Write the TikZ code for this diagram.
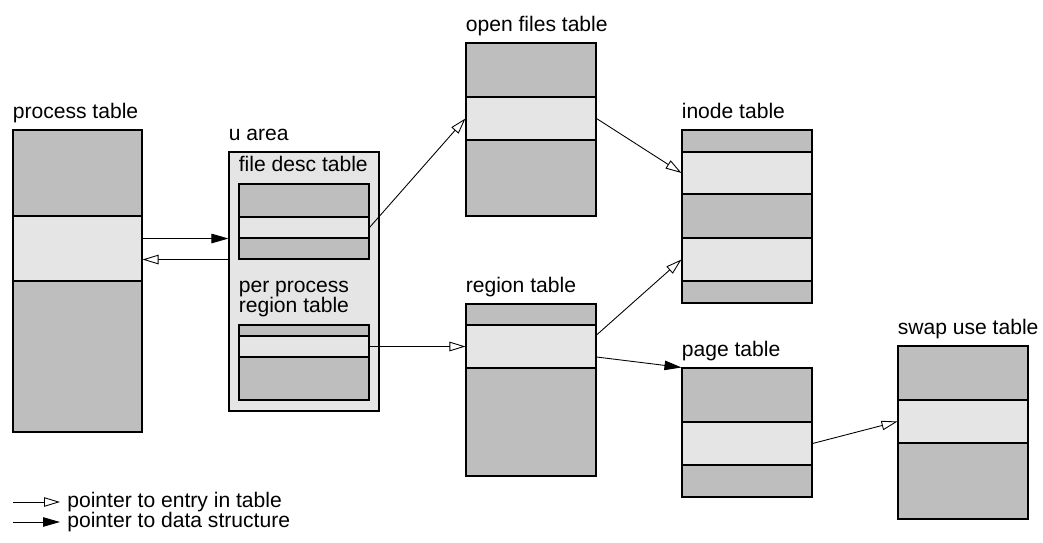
\documentclass[tikz,border=0pt]{standalone}
\usepackage{fontspec}
\setmainfont{Liberation Sans}
\usetikzlibrary{arrows.meta,fit}
\definecolor{tabdark}{gray}{0.745}
\definecolor{tablight}{gray}{0.9}
\tikzset{
  tbl/.style={draw, fill=tabdark, inner sep=0pt, line width=0.6pt},
  slot/.style={draw, fill=tablight, inner sep=0pt, line width=0.6pt},
  uarea/.style={draw, fill=tablight, inner sep=0pt, line width=0.6pt},
  tname/.style={anchor=base west, inner sep=0pt, font=\fontsize{12}{11.5}\selectfont},
  toentry/.style={-{Triangle[open,length=0.32cm,width=0.19cm]}, line width=0.5pt},
  todata/.style={-{Triangle[length=0.34cm,width=0.19cm]}, line width=0.5pt},
}
\begin{document}
\begin{tikzpicture}[x=0.02cm, y=-0.02cm]
\useasboundingbox (0,0) rectangle (1043,543);
% process table
\node[tbl, fit={(13,130) (142,432)}] (proc) {};
\node[slot, fit={(13,216) (142,281)}] (procE) {};
\node[tname] (procT) at ([yshift=0.22cm]proc.north west) {process table};
% u area
\node[uarea, fit={(229,152) (379,411)}] (u) {};
\node[tname] (uT) at ([yshift=0.22cm]u.north west) {u area};
\node[tbl, fit={(239,184) (369,259)}] (fd) {};
\node[slot, fit={(239,217) (369,238)}] (fdE) {};
\node[tname] (fdT) at ([yshift=0.24cm]fd.north west) {file desc table};
\node[tbl, fit={(239,325) (369,400)}] (pp) {};
\node[slot, fit={(239,336) (369,357)}] (ppE) {};
\node[tname, anchor=south west, align=left] (ppT) at ([yshift=0.15cm]pp.north west) {per process\\region table};
% open files table
\node[tbl, fit={(466,43) (596,216)}] (of) {};
\node[slot, fit={(466,97) (596,140)}] (ofE) {};
\node[tname] (ofT) at ([yshift=0.22cm]of.north west) {open files table};
% inode table
\node[tbl, fit={(682,130) (812,303)}] (in) {};
\node[slot, fit={(682,152) (812,194)}] (inE1) {};
\node[slot, fit={(682,238) (812,281)}] (inE2) {};
\node[tname] (inT) at ([yshift=0.22cm]in.north west) {inode table};
% region table
\node[tbl, fit={(466,304) (596,476)}] (rg) {};
\node[slot, fit={(466,325) (596,368)}] (rgE) {};
\node[tname] (rgT) at ([yshift=0.22cm]rg.north west) {region table};
% page table
\node[tbl, fit={(682,368) (812,497)}] (pg) {};
\node[slot, fit={(682,422) (812,465)}] (pgE) {};
\node[tname] (pgT) at ([yshift=0.22cm]pg.north west) {page table};
% swap use table
\node[tbl, fit={(898,346) (1028,519)}] (sw) {};
\node[slot, fit={(898,400) (1028,443)}] (swE) {};
\node[tname] (swT) at ([yshift=0.22cm]sw.north west) {swap use table};
% pointers
\draw[todata] (procE.east |- fdE.south) -- (u.west |- fdE.south);
\draw[toentry] (u.west |- fd.south) -- (procE.east |- fd.south);
\draw[toentry] (fdE.east) -- (ofE.west);
\draw[toentry] (ofE.east) -- (inE1.west);
\draw[toentry] (ppE.east) -- (rgE.west);
\draw[toentry] ([yshift=0.23cm]rgE.east) -- (inE2.west);
\draw[todata] ([yshift=-0.21cm]rgE.east) -- (pg.north west);
\draw[toentry] (pgE.east) -- (swE.west);
% legend
\coordinate (lgEs) at (13,502);
\coordinate (lgDs) at (13,522);
\node[tname, anchor=west] (lgE) at (67,502) {pointer to entry in table};
\node[tname, anchor=west] (lgD) at (67,522) {pointer to data structure};
\draw[toentry] (lgEs) -- ([xshift=-0.14cm]lgE.west);
\draw[todata] (lgDs) -- ([xshift=-0.14cm]lgD.west);
\end{tikzpicture}
\end{document}
